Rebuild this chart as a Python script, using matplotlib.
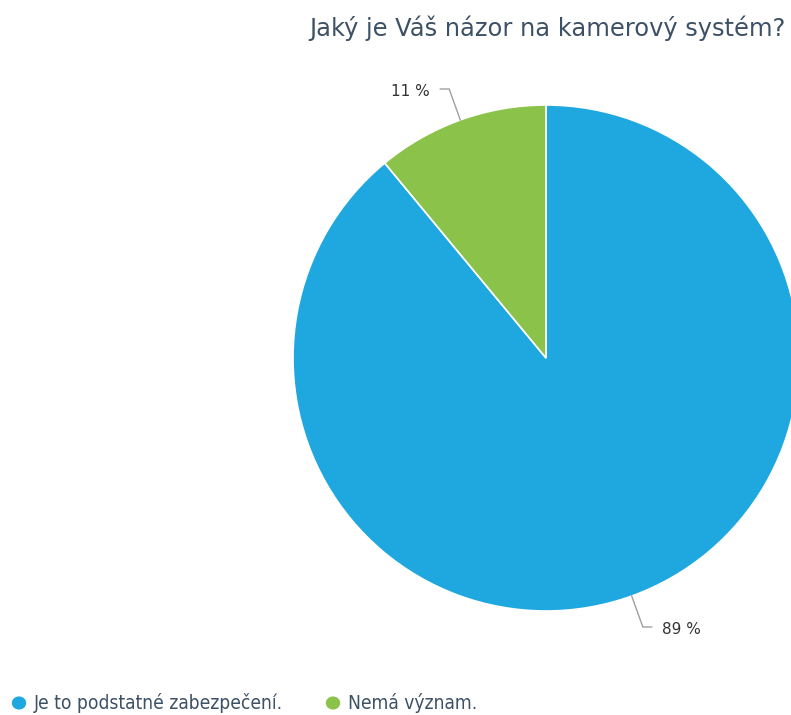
import numpy as np
import matplotlib.pyplot as plt

labels = ['Je to podstatné zabezpečení.', 'Nemá význam.']
shares = [89, 11]
colors = ['#1fa8e0', '#8bc34a']
title = 'Jaký je Váš názor na kamerový systém?'

W, H = 791, 715
fig = plt.figure(figsize=(W / 100, H / 100), dpi=100)

# pie centre and radius in pixels
cx, cy, r = 546, 358, 253
ax = fig.add_axes([(cx - r) / W, (H - cy - r) / H, 2 * r / W, 2 * r / H])

wedges, _ = ax.pie(shares, colors=colors, startangle=90, counterclock=False,
                   radius=1, wedgeprops=dict(edgecolor='white', linewidth=1.2))
ax.set_xlim(-1, 1)
ax.set_ylim(-1, 1)
ax.set_aspect('equal')
ax.axis('off')

# percentage labels with elbow leader lines
for w, val in zip(wedges, shares):
    ang = np.deg2rad((w.theta1 + w.theta2) / 2)
    x0, y0 = np.cos(ang), np.sin(ang)
    x1, y1 = 1.13 * x0, 1.13 * y0
    side = 1 if x0 > 0 else -1
    x2 = x1 + side * 0.035
    ax.plot([x0, x1, x2], [y0, y1, y1], color='#a0a0a0', lw=1, clip_on=False)
    ax.text(x2 + side * 0.04, y1 - 0.01, f'{val} %', ha='left' if side > 0 else 'right',
            va='center', fontsize=11, color='#333333', family='DejaVu Sans', clip_on=False)

fig.text(785 / W, 1 - 28 / H, title, ha='right', va='center', fontsize=17.4,
         color='#3d5166', family='DejaVu Sans')

# legend row
leg_x = [19, 333]
for x, lab, col in zip(leg_x, labels, colors):
    fig.patches.append(plt.Circle((x / W, 1 - 703 / H), 6.5 / W, transform=fig.transFigure,
                                  color=col, figure=fig))
    fig.text((x + 15) / W, 1 - 703 / H, lab, ha='left', va='center', fontsize=13.8,
             color='#3d5166', family='DejaVu Sans', fontstretch='condensed')

fig.savefig('out.png', dpi=100)
